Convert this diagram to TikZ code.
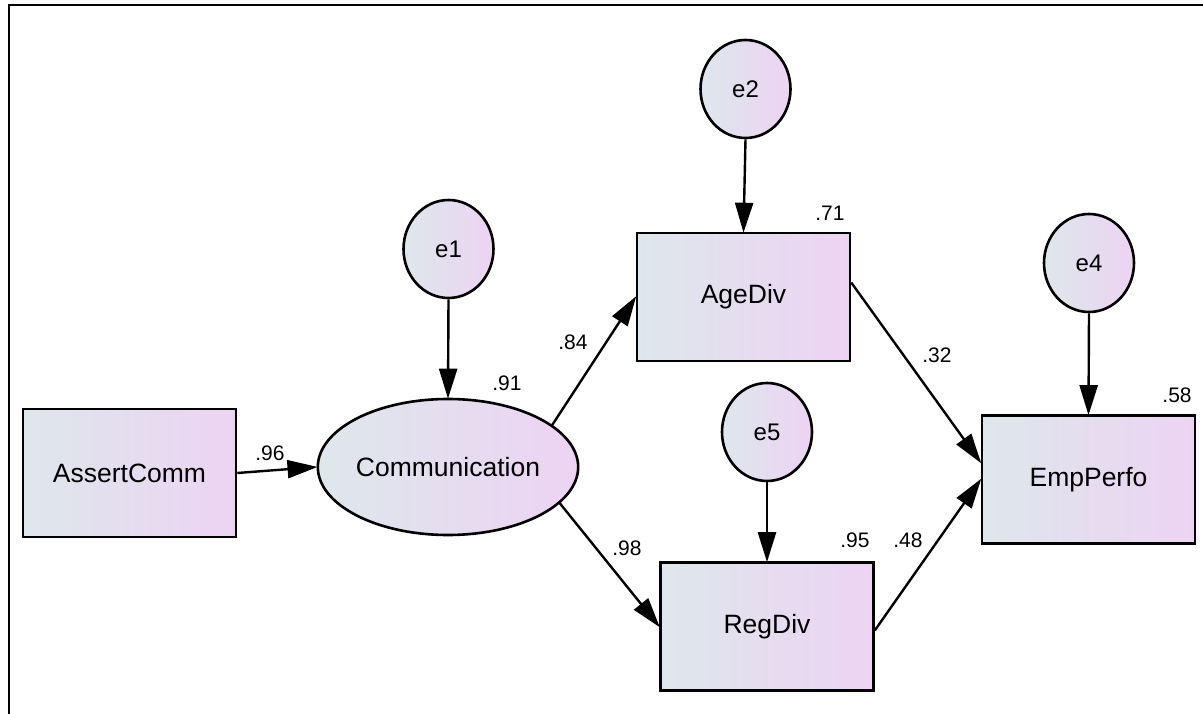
\documentclass[tikz,border=0pt]{standalone}
\usepackage{fontspec}
\setmainfont{Liberation Sans}
\usetikzlibrary{shapes.geometric,arrows.meta,calc}
\definecolor{shadeA}{RGB}{222,231,236}
\definecolor{shadeB}{RGB}{237,211,243}
\tikzset{
  obsbox/.style={draw=black, line width=2.6pt, left color=shadeA, right color=shadeB,
    minimum width=213pt, minimum height=128pt, inner sep=0pt, font=\fontsize{26.5}{30}\selectfont},
  latent/.style={ellipse, draw=black, line width=2.6pt, left color=shadeA, right color=shadeB,
    minimum width=240pt, minimum height=136pt, inner sep=0pt, font=\fontsize{26.5}{30}\selectfont},
  errnode/.style={ellipse, draw=black, line width=2.6pt, left color=shadeA, right color=shadeB,
    minimum width=90pt, minimum height=98pt, inner sep=0pt, font=\fontsize{24}{28}\selectfont},
  path/.style={line width=2.4pt, -{Triangle[length=30pt,width=18pt]}, shorten >=-1pt},
  coef/.style={inner sep=0pt, font=\fontsize{21}{24}\selectfont},
}
\begin{document}
\begin{tikzpicture}[x=1pt,y=-1pt]
\useasboundingbox (0,0) rectangle (1203,714);
% page frame, open at the right and the bottom
\draw[line width=2.6pt] (9,714) -- (9,5) -- (1203,5);

% variables
\node[obsbox] (assert) at (129.5,473) {AssertComm};
\node[latent] (comm) at (448,467) {Communication};
\node[obsbox] (age) at (743.5,297) {AgeDiv};
\node[obsbox] (reg) at (767,626.5) {RegDiv};
\node[obsbox] (emp) at (1088.5,479.5) {EmpPerfo};

% error terms
\node[errnode] (e1) at (448.5,249) {e1};
\node[errnode] (e2) at (745.5,89) {e2};
\node[errnode] (e5) at (767,432) {e5};
\node[errnode] (e4) at (1089,263) {e4};

% paths
\draw[path] (assert.east) -- (comm.west);
\draw[path] (comm.22) -- (age.west);
\draw[path] (comm.-18) -- (reg.west);
\draw[path] ($(age.north east)!0.39!(age.south east)$) -- ($(emp.north west)!0.37!(emp.south west)$);
\draw[path] ($(reg.north east)!0.53!(reg.south east)$) -- (emp.west);
\draw[path] (e1.south) -- (comm.north);
\draw[path] (e2.south) -- (age.north);
\draw[path] (e5.south) -- (reg.north);
\draw[path] (e4.south) -- (emp.north);

% estimates
\node[coef] (c96) at (270,453) {.96};
\node[coef] (c91) at (507,383) {.91};
\node[coef] (c84) at (573,342) {.84};
\node[coef] (c98) at (627,548) {.98};
\node[coef] (c71) at (830,213) {.71};
\node[coef] (c32) at (937,355) {.32};
\node[coef] (c95) at (855,540) {.95};
\node[coef] (c48) at (908,540) {.48};
\node[coef] (c58) at (1177,395) {.58};
\end{tikzpicture}
\end{document}
